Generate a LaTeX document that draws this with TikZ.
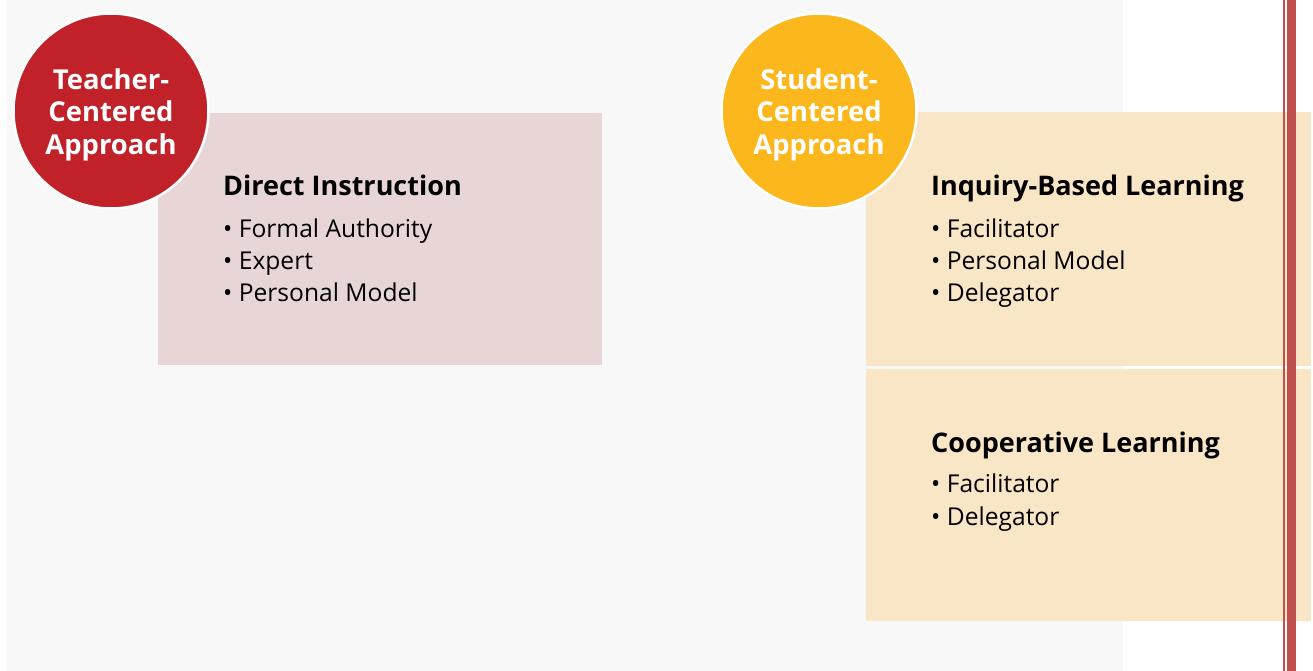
\documentclass[tikz,border=0pt]{standalone}
\usepackage{fontspec}
\setmainfont{Open Sans}
\usepackage{xcolor}

\definecolor{pagegray}{HTML}{F8F8F8}
\definecolor{roseback}{HTML}{E8D5D6}
\definecolor{peachback}{HTML}{F9E6C6}
\definecolor{teacherred}{HTML}{C1222A}
\definecolor{studentgold}{HTML}{FCB71D}
\definecolor{rulered}{HTML}{C0504D}

\begin{document}
\begin{tikzpicture}[x=1pt, y=-1pt, text=black,
    panel/.style={rectangle, anchor=north west, inner sep=0pt,
        minimum width=445pt},
    approach/.style={circle, minimum size=195pt, inner sep=0pt,
        draw=white, line width=2.5pt},
    approachtext/.style={inner sep=0pt, text=white, align=center,
        font=\bfseries\fontsize{27.4}{32.5}\selectfont},
    heading/.style={anchor=base west, inner sep=0pt,
        font=\bfseries\fontsize{27}{32}\selectfont},
    item/.style={anchor=base west, inner sep=0pt,
        font=\fontsize{24.6}{32}\selectfont}]
\useasboundingbox (0,0) rectangle (1313,671);
\fill[pagegray] (7,0) rectangle (1123,671);

% panels
\node (direct) [panel, fill=roseback, minimum width=444pt,
    minimum height=252pt] at (158,113) {};
\node (inquiry) [panel, fill=peachback, minimum height=254pt]
    at (866,112) {};
\node (coop) [panel, fill=peachback, minimum height=252pt]
    at (866,369) {};

% approach circles
\node (teacher) [approach, fill=teacherred] at (111,111) {};
\path (teacher.center)+(0,3.5) node (teachertext) [approachtext]
    {Teacher-\\Centered\\Approach};
\node (student) [approach, fill=studentgold] at (819,111) {};
\path (student.center)+(0,3.5) node (studenttext) [approachtext]
    {Student-\\Centered\\Approach};

% direct instruction
\path (direct.north west)+(65,83) node (directhead) [heading]
    {Direct Instruction};
\path (directhead.base west)+(0,41) node (direct1) [item]
    {• Formal Authority};
\path (direct1.base west)+(0,32) node (direct2) [item] {• Expert};
\path (direct2.base west)+(0,32) node (direct3) [item]
    {• Personal Model};

% inquiry-based learning
\path (inquiry.north west)+(65,84) node (inquiryhead) [heading]
    {Inquiry-Based Learning};
\path (inquiryhead.base west)+(0,41) node (inquiry1) [item]
    {• Facilitator};
\path (inquiry1.base west)+(0,32) node (inquiry2) [item]
    {• Personal Model};
\path (inquiry2.base west)+(0,32) node (inquiry3) [item]
    {• Delegator};

% cooperative learning
\path (coop.north west)+(65,83) node (coophead) [heading]
    {Cooperative Learning};
\path (coophead.base west)+(0,40) node (coop1) [item]
    {• Facilitator};
\path (coop1.base west)+(0,33) node (coop2) [item] {• Delegator};

% margin rule
\fill[rulered] (1283,0) rectangle (1285,671);
\fill[rulered] (1287,0) rectangle (1296,671);
\end{tikzpicture}
\end{document}
